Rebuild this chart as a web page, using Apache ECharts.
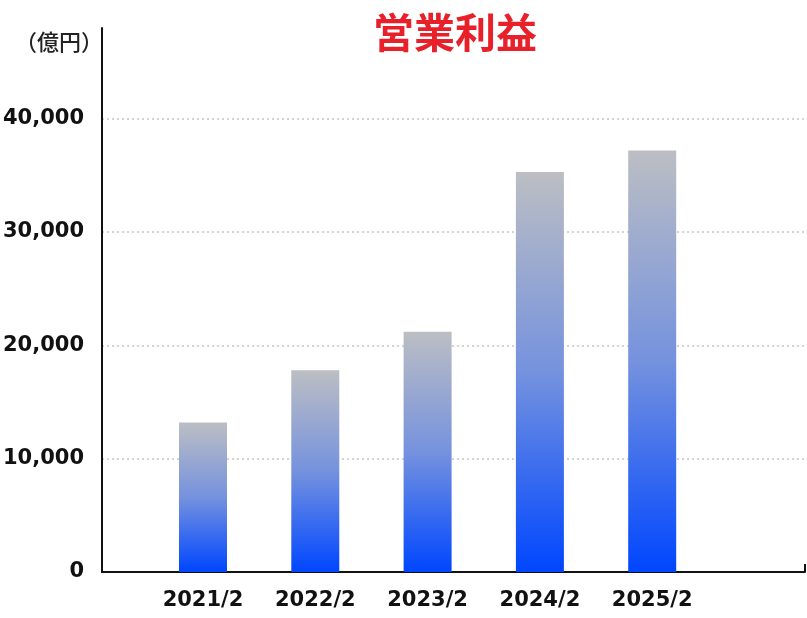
<!DOCTYPE html>
<html>
<head>
<meta charset="utf-8">
<script src="https://cdn.jsdelivr.net/npm/echarts@6/dist/echarts.min.js"></script>
<style>
  html, body { margin: 0; padding: 0; background: #fff; }
  #main { width: 807px; height: 618px; }
</style>
</head>
<body>
<div id="main"></div>
<script>
var years = ['2021/2', '2022/2', '2023/2', '2024/2', '2025/2'];
var profit = [13200, 17800, 21200, 35300, 37200];
var yTicks = [0, 10000, 20000, 30000, 40000];

var chart = echarts.init(document.getElementById('main'));

var numFont = 'DejaVu Sans';
var cjkFont = '"Noto Sans CJK JP", "Noto Sans", sans-serif';

var option = {
  animation: false,
  backgroundColor: '#fff',
  title: [{
    text: '営業利益',
    left: 450,
    top: 7,
    textAlign: 'center',
    textStyle: { color: '#e8202a', fontSize: 41, fontWeight: 'bold', fontFamily: cjkFont }
  }, {
    text: '（億円）',
    left: 54,
    top: 26,
    textAlign: 'center',
    textStyle: { color: '#222', fontSize: 22, fontWeight: 500, fontFamily: cjkFont }
  }],
  grid: [
    // frame grid: axis lines, y labels and dotted split lines
    { left: 102, right: 2, top: 28, bottom: 46 },
    // bar grid: category positions
    { left: 146.85, width: 561.5, top: 28, bottom: 46 }
  ],
  xAxis: [{
    gridIndex: 0,
    type: 'value',
    min: 0,
    max: 1,
    interval: 1,
    axisLine: { show: true, lineStyle: { color: '#111', width: 2 } },
    axisTick: { show: true, inside: true, length: 8, lineStyle: { color: '#111', width: 2 } },
    axisLabel: { show: false },
    splitLine: { show: false }
  }, {
    gridIndex: 1,
    type: 'category',
    data: years,
    axisLine: { show: false },
    axisTick: { show: false },
    axisLabel: {
      margin: 18,
      color: '#111',
      fontSize: 21,
      fontWeight: 'bold',
      fontFamily: numFont
    }
  }],
  yAxis: [{
    gridIndex: 0,
    type: 'value',
    min: 0,
    max: 48000,
    interval: 10000,
    axisLine: { show: true, lineStyle: { color: '#111', width: 2 } },
    axisTick: { show: false },
    axisLabel: {
      showMaxLabel: false,
      margin: 18,
      color: '#111',
      fontSize: 21,
      fontWeight: 'bold',
      fontFamily: numFont,
      formatter: function (v) {
        return yTicks.indexOf(v) >= 0 ? v.toLocaleString('en-US') : '';
      }
    },
    splitLine: {
      show: true,
      showMinLine: false,
      showMaxLine: false,
      lineStyle: { color: '#c4c4c4', width: 1.5, type: [2, 3] }
    }
  }, {
    gridIndex: 1,
    type: 'value',
    min: 0,
    max: 48000,
    show: false
  }],
  series: [{
    type: 'bar',
    xAxisIndex: 1,
    yAxisIndex: 1,
    data: profit,
    barWidth: 48,
    itemStyle: {
      color: new echarts.graphic.LinearGradient(0, 0, 0, 1, [
        { offset: 0, color: '#bcbec3' },
        { offset: 0.5, color: '#7592de' },
        { offset: 1, color: '#0046ff' }
      ])
    }
  }]
};

chart.setOption(option);
</script>
</body>
</html>
